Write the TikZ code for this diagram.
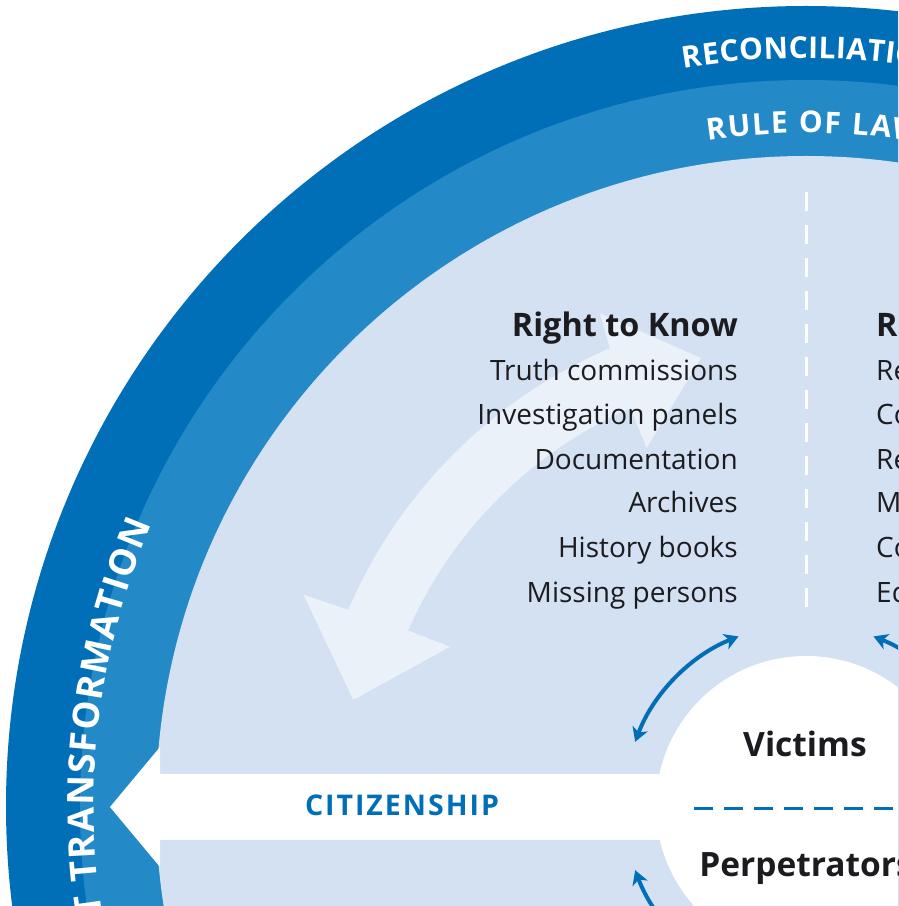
\documentclass[tikz,border=0pt]{standalone}
\usepackage{fontspec}
\setmainfont{Open Sans}
\usetikzlibrary{arrows.meta}
\definecolor{dkblue}{RGB}{0,111,183}
\definecolor{mdblue}{RGB}{35,137,199}
\definecolor{ltblue}{RGB}{212,225,242}
\definecolor{paleblue}{RGB}{235,241,249}
\definecolor{ink}{RGB}{28,28,32}
\newcommand\ringfont{\fontsize{30}{30}\selectfont\bfseries}
\newcommand\ringfontL{\fontsize{36.5}{36.5}\selectfont\bfseries}
\newcommand\itemfont{\fontsize{28}{30}\selectfont}
\newcommand\headfont{\fontsize{32.4}{34}\selectfont\bfseries}
\newcommand\victfont{\fontsize{33.5}{36}\selectfont\bfseries}
\newcommand\citfont{\fontsize{28.5}{30}\selectfont\bfseries\addfontfeatures{LetterSpace=7}}
\newbox\rtbox
\newdimen\rtTotalD
\newdimen\rtAccD
\newcommand\RingText[7]{% radius, anchor angle, fraction, tracking, font, prefix, letters
  \global\rtTotalD=0pt
  \foreach \ch in {#7}{\setbox\rtbox\hbox{\pgfinterruptpicture#5\ch\endpgfinterruptpicture}%
    \global\advance\rtTotalD by \wd\rtbox
    \global\advance\rtTotalD by #4pt}%
  \global\advance\rtTotalD by -#4pt
  \pgfmathsetmacro\rtStart{#2+#3*\rtTotalD/(#1)*180/pi}%
  \global\rtAccD=0pt
  \foreach \ch [count=\i] in {#7}{%
    \setbox\rtbox\hbox{\pgfinterruptpicture#5\ch\endpgfinterruptpicture}%
    \global\advance\rtAccD by 0.5\wd\rtbox
    \pgfmathsetmacro\ang{\rtStart-\rtAccD/(#1)*180/pi}%
    \global\advance\rtAccD by 0.5\wd\rtbox
    \global\advance\rtAccD by #4pt
    \node[ringletter, font=#5, rotate=\ang-90] (#6\i) at ([shift={(\ang:#1)}]C) {\ch};
  }%
}
\begin{document}
\begin{tikzpicture}[x=1pt,y=1pt,
  ringletter/.style={inner sep=0pt, anchor=base, text=white},
  itemR/.style={inner sep=0pt, anchor=base east, text=ink, font=\itemfont},
  itemL/.style={inner sep=0pt, anchor=base west, text=ink, font=\itemfont},
  headR/.style={inner sep=0pt, anchor=base east, text=ink, font=\headfont},
  headL/.style={inner sep=0pt, anchor=base west, text=ink, font=\headfont},
  victim/.style={inner sep=0pt, anchor=base, text=ink, font=\victfont},
  bluearc/.style={dkblue, line width=4pt, {Stealth[length=14pt,width=16pt,inset=4pt]}-{Stealth[length=14pt,width=16pt,inset=4pt]}},
  dashwhite/.style={white, line width=3pt, dash pattern=on 19pt off 14pt},
  dashblue/.style={dkblue, line width=3pt, dash pattern=on 19pt off 11pt}]
\useasboundingbox (0,0) rectangle (898,906);
\clip (0,0) rectangle (898,906);
\fill[white] (0,0) rectangle (898,906);
\coordinate (C) at (806,100);
% rings
\fill[dkblue] (C) circle[radius=800];
\fill[mdblue] (C) circle[radius=726];
\fill[ltblue] (C) circle[radius=650];
% pale curved arrow
\fill[paleblue] ([shift={(156.8:498)}]C) arc[start angle=156.8,end angle=113.2,radius=498]
  -- ([shift={(112.7:534)}]C) -- ([shift={(103.2:460)}]C) -- ([shift={(114:392)}]C)
  -- ([shift={(113.8:435)}]C) arc[start angle=113.8,end angle=156.2,radius=435]
  -- ([shift={(155.9:390)}]C) -- ([shift={(166.8:465)}]C) -- ([shift={(157.2:545)}]C) -- cycle;
% white citizenship arrow and centre circle
\fill[white] (806,66) -- (160,66) -- (160,39) -- (110,99) -- (160,159) -- (160,132) -- (806,132) -- cycle;
\fill[white] (C) circle[radius=150];
% dashed separators
\coordinate (vt) at (806,714);
\coordinate (vb) at (806,299);
\draw[dashwhite] (vt) -- (vb);
\coordinate (hl) at (694,97);
\coordinate (hr) at (918,97);
\draw[dashblue] (hl) -- (hr);
% blue double arrows round the centre
\foreach \a/\b in {159.4/111.7, 68.3/20.6, 200.6/248.3, 291.7/339.4}
  \draw[bluearc] ([shift={(\a:182.5)}]C) arc[start angle=\a, end angle=\b, radius=182.5];
% ring texts
\RingText{748}{99.4}{0}{0.3}{\ringfont}{rec}{R,E,C,O,N,C,I,L,I,A,T,I,O,N}
\RingText{673}{98.4}{0}{1.5}{\ringfont}{rol}{R,U,L,E,~,O,F,~,L,A,W}
\RingText{712}{156.7}{1}{1.5}{\ringfontL}{ct}{C,O,N,F,L,I,C,T,~,T,R,A,N,S,F,O,R,M,A,T,I,O,N}
% Right to Know
\node[headR] (rk) at (738,569) {Right to Know};
\node[itemR] (rk1) at (738,525) {Truth commissions};
\node[itemR] (rk2) at (738,481) {Investigation panels};
\node[itemR] (rk3) at (738,436) {Documentation};
\node[itemR] (rk4) at (738,393) {Archives};
\node[itemR] (rk5) at (738,348) {History books};
\node[itemR] (rk6) at (738,303) {Missing persons};
% Right to Reparation
\node[headL] (rr) at (876,569) {Right to Reparation};
\node[itemL] (rr1) at (876,525) {Restitution};
\node[itemL] (rr2) at (876,481) {Compensation};
\node[itemL] (rr3) at (876,436) {Rehabilitation};
\node[itemL] (rr4) at (876,393) {Memorials};
\node[itemL] (rr5) at (876,348) {Commemoration};
\node[itemL] (rr6) at (876,303) {Education};
% centre
\node[victim] (vic) at (805,149) {Victims};
\node[victim] (perp) at (806,29) {Perpetrators};
\node[inner sep=0pt, anchor=base, text=dkblue, font=\citfont] (cit) at (402,90) {CITIZENSHIP};
\end{tikzpicture}
\end{document}
